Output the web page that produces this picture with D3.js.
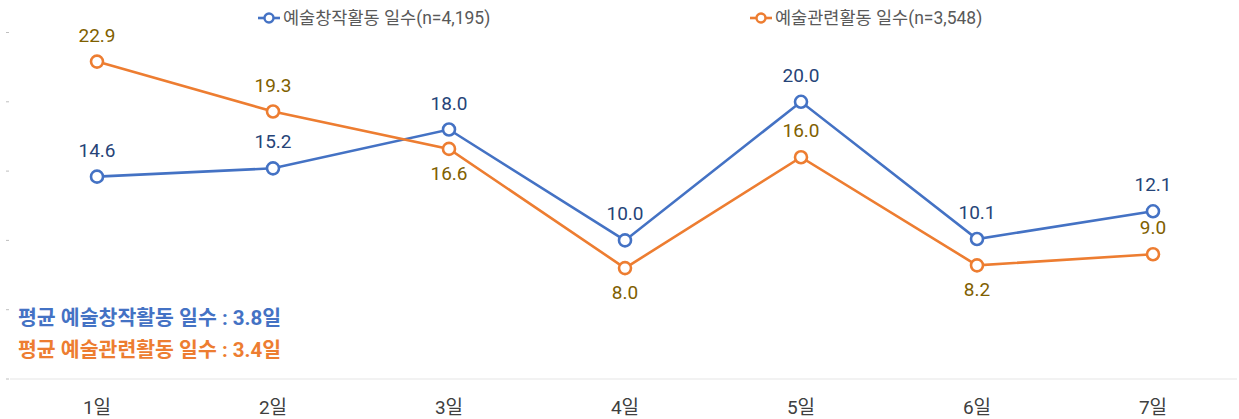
<!DOCTYPE html>
<html>
<head>
<meta charset="utf-8">
<script src="https://cdn.jsdelivr.net/npm/d3@7"></script>
<style>
  body { margin: 0; background: #fff; }
  svg { display: block; font-family: Roboto, "Noto Sans CJK KR", sans-serif; }
</style>
</head>
<body>
<div id="chart"></div>
<script>
// data
const days = ['1일', '2일', '3일', '4일', '5일', '6일', '7일'];
const creation = [14.6, 15.2, 18.0, 10.0, 20.0, 10.1, 12.1];
const related = [22.9, 19.3, 16.6, 8.0, 16.0, 8.2, 9.0];
// where each orange label sits relative to its point
const relatedLabelPos = ['above', 'above', 'below', 'below', 'above', 'below', 'above'];
const yTicks = [0, 5, 10, 15, 20, 25];

const series = [
    { name: '예술창작활동 일수(n=4,195)', values: creation, color: '#4472C4', labelColor: '#264478' },
    { name: '예술관련활동 일수(n=3,548)', values: related, color: '#ED7D31', labelColor: '#7F6000' }
];

const width = 1239, height = 419;

const svg = d3.select('#chart')
    .append('svg')
    .attr('width', width)
    .attr('height', height);

const x = d3.scaleBand()
    .domain(days)
    .range([9, 1241]);

const y = d3.scaleLinear()
    .domain([0, 25])
    .range([379, 32.5]);

// tiny tick marks on the left
svg.append('g')
    .selectAll('line')
    .data(yTicks)
    .join('line')
    .attr('x1', 6).attr('x2', 9)
    .attr('y1', d => y(d)).attr('y2', d => y(d))
    .attr('stroke', '#bfbfbf')
    .attr('stroke-width', 1);

// baseline
svg.append('line')
    .attr('x1', 10).attr('x2', 1237)
    .attr('y1', y(0)).attr('y2', y(0))
    .attr('stroke', '#e6e6e6')
    .attr('stroke-width', 1.2);

// x labels
svg.append('g')
    .selectAll('text')
    .data(days)
    .join('text')
    .attr('x', d => x(d) + x.bandwidth() / 2)
    .attr('y', 414)
    .attr('text-anchor', 'middle')
    .attr('fill', '#404040')
    .style('font-size', '19px')
    .text(d => d);

const cx = i => x(days[i]) + x.bandwidth() / 2;

const line = d3.line()
    .x((d, i) => cx(i))
    .y(d => y(d));

series.forEach((s, si) => {
    const g = svg.append('g');

    g.append('path')
        .datum(s.values)
        .attr('d', line)
        .attr('fill', 'none')
        .attr('stroke', s.color)
        .attr('stroke-width', 2.6);

    g.selectAll('circle')
        .data(s.values)
        .join('circle')
        .attr('cx', (d, i) => cx(i))
        .attr('cy', d => y(d))
        .attr('r', 6)
        .attr('fill', '#fff')
        .attr('stroke', s.color)
        .attr('stroke-width', 2.6);

    g.selectAll('text')
        .data(s.values)
        .join('text')
        .attr('x', (d, i) => cx(i))
        .attr('y', (d, i) => {
            const below = si === 1 && relatedLabelPos[i] === 'below';
            return below ? y(d) + 31 : y(d) - 20;
        })
        .attr('text-anchor', 'middle')
        .attr('fill', s.labelColor)
        .style('font-size', '19px')
        .text(d => d.toFixed(1));
});

// legend
const legendX = [258, 750];
series.forEach((s, i) => {
    const lg = svg.append('g').attr('transform', `translate(${legendX[i]},18)`);
    lg.append('line')
        .attr('x1', 0).attr('x2', 22)
        .attr('stroke', s.color)
        .attr('stroke-width', 2.6);
    lg.append('circle')
        .attr('cx', 11).attr('r', 4.5)
        .attr('fill', '#fff')
        .attr('stroke', s.color)
        .attr('stroke-width', 2.4);
    lg.append('text')
        .attr('x', 25)
        .attr('y', 6)
        .attr('fill', '#595959')
        .style('font-size', '17.5px')
        .text(s.name);
});

// average annotations
const notes = [
    { text: '평균 예술창작활동 일수 : 3.8일', color: '#4472C4', y: 325 },
    { text: '평균 예술관련활동 일수 : 3.4일', color: '#ED7D31', y: 357 }
];
svg.append('g')
    .selectAll('text')
    .data(notes)
    .join('text')
    .attr('x', 18)
    .attr('y', d => d.y)
    .attr('fill', d => d.color)
    .style('font-size', '20.5px')
    .style('font-weight', 'bold')
    .text(d => d.text);
</script>
</body>
</html>
